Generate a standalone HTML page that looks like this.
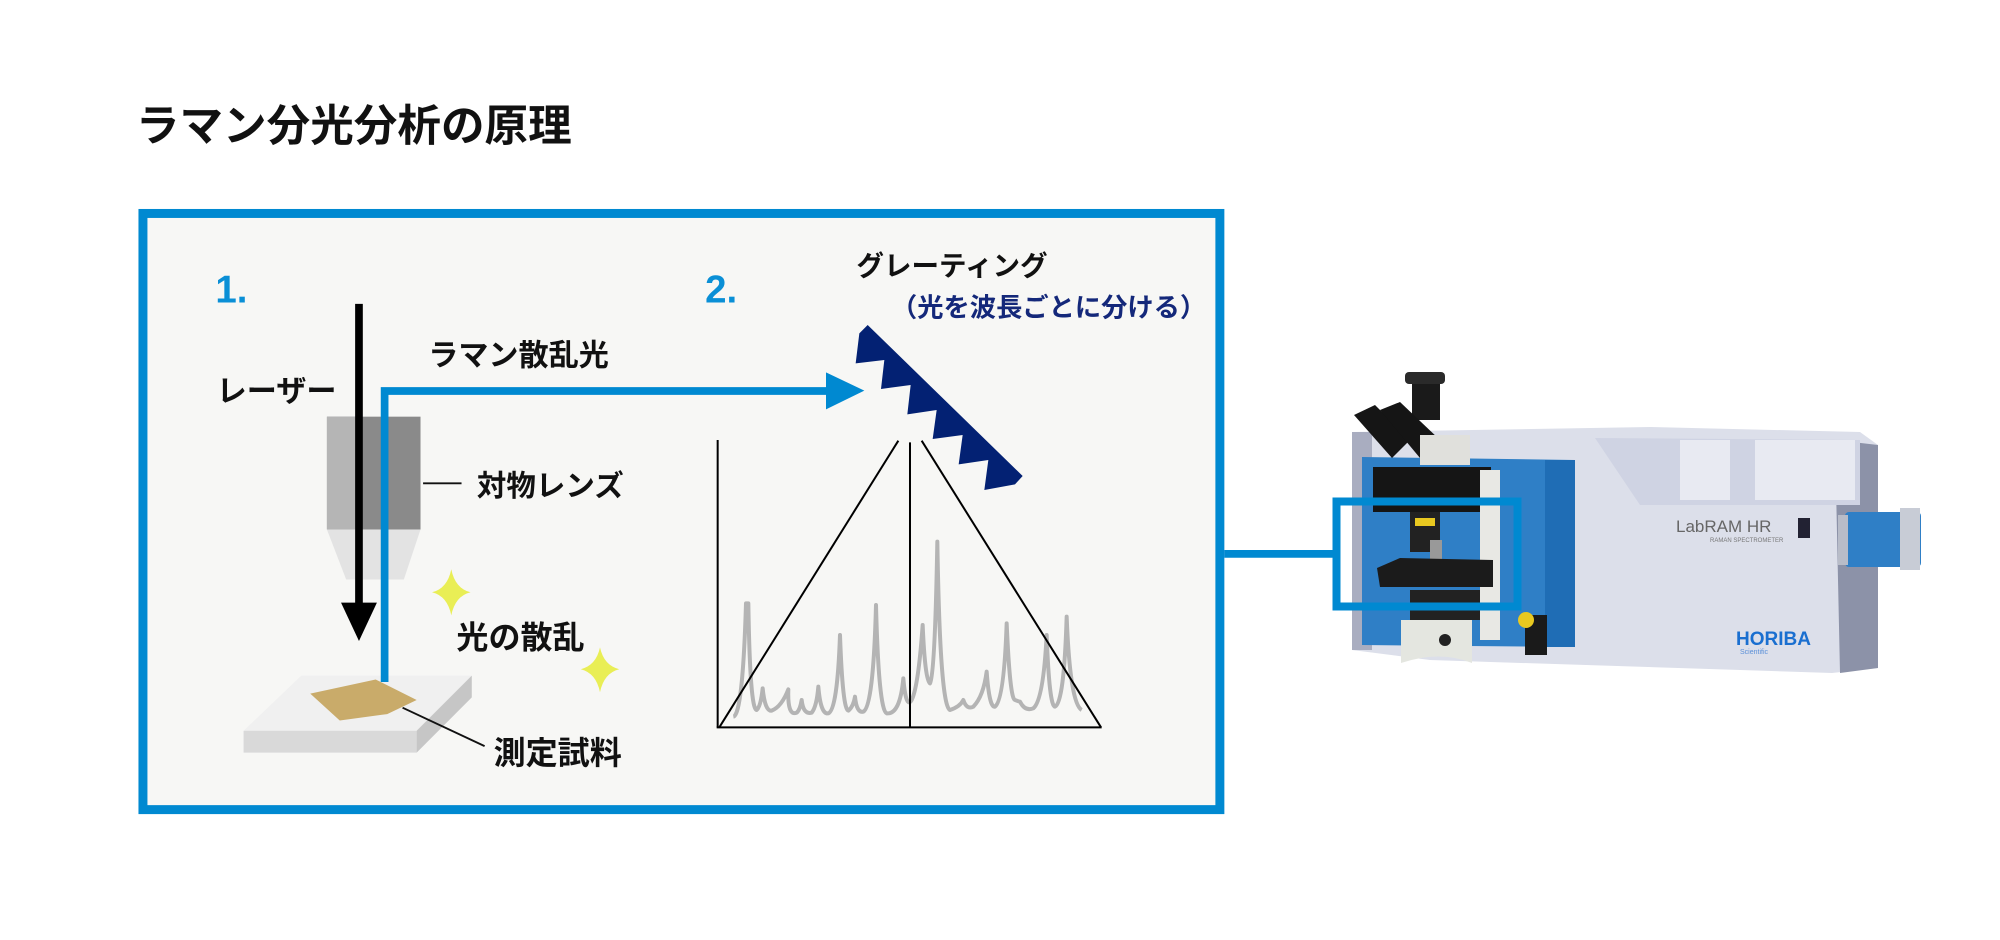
<!DOCTYPE html>
<html><head><meta charset="utf-8"><style>
html,body{margin:0;padding:0;background:#fff;width:2000px;height:940px;overflow:hidden}
svg{display:block}
text{font-family:"Liberation Sans","Noto Sans CJK JP",sans-serif;font-weight:bold}
</style></head><body>
<svg width="2000" height="940" viewBox="0 0 2000 940" xmlns="http://www.w3.org/2000/svg">
<g transform="scale(1.28205)">
  <text x="106" y="110" font-size="34" fill="#111">ラマン分光分析の原理</text>
  <rect x="111.5" y="166.5" width="840" height="465" fill="#f7f7f5" stroke="#0089d1" stroke-width="7"/>
  <line x1="955" y1="432" x2="1040" y2="432" stroke="#0089d1" stroke-width="6"/>
  <text x="168" y="236" font-size="30" fill="#0a8fd6">1.</text>
  <text x="550" y="236" font-size="30" fill="#0a8fd6">2.</text>
  <text x="169" y="313" font-size="23.5" fill="#111">レーザー</text>
  <text x="334" y="285" font-size="23.5" fill="#111">ラマン散乱光</text>
  <text x="372" y="387" font-size="23" fill="#111">対物レンズ</text>
  <text x="356" y="506" font-size="25" fill="#111">光の散乱</text>
  <text x="385" y="596" font-size="25" fill="#111">測定試料</text>
  <text x="668" y="215" font-size="21.5" fill="#111">グレーティング</text>
  <text x="695" y="247" font-size="20.5" fill="#14287a">（光を波長ごとに分ける）</text>
  <rect x="255" y="325" width="73" height="88" fill="#8a8a8a"/>
  <rect x="255" y="325" width="26" height="88" fill="#b5b5b5"/>
  <polygon points="255,413 328,413 315,452 270,452" fill="#e3e3e3"/>
  <line x1="330" y1="377" x2="360" y2="377" stroke="#111" stroke-width="1.5"/>
  <line x1="280" y1="237" x2="280" y2="475" stroke="#000" stroke-width="6"/>
  <polygon points="266,470 294,470 280,500" fill="#000"/>
  <polygon points="235,527 368,527 325,570 190,570" fill="#f0f0f0"/>
  <polygon points="190,570 325,570 325,587 190,587" fill="#d9d9d9"/>
  <polygon points="325,570 368,527 368,544 325,587" fill="#c6c6c6"/>
  <polygon points="242,541 293,530 325,546 302,557 265,562" fill="#c9ab6a"/>
  <line x1="314" y1="552" x2="378" y2="582" stroke="#111" stroke-width="1.5"/>
  <polyline points="300,532 300,305 652,305" fill="none" stroke="#0089d1" stroke-width="6"/>
  <path d="M352,444 Q355,459 367,462 Q355,465 352,480 Q349,465 337,462 Q349,459 352,444Z" fill="#e9ee55"/>
  <path d="M468,505 Q471,519 483,522 Q471,525 468,540 Q465,525 453,522 Q465,519 468,505Z" fill="#e9ee55"/>
</g>
<g transform="translate(700,320) scale(0.33333)">
  <polygon points="378,157 493,212 378,268" fill="#0089d1"/>
  <polygon points="503,15 478,40 467,130 553,120 543,207 632,195 622,283 710,270 698,357 788,345 776,433 865,420 853,510 945,493 968,468" fill="#032173"/>
  <path d="M100,1190 Q128,1185 138,850 L145,850 Q150,1170 170,1170 Q182,1160 188,1105 Q195,1175 215,1172 Q245,1160 265,1108 Q262,1190 290,1178 Q300,1170 305,1140 Q310,1185 335,1178 Q350,1160 355,1100 Q362,1185 385,1180 Q412,1170 420,945 Q428,1170 445,1172 Q460,1160 465,1130 Q470,1180 490,1175 Q520,1160 528,855 Q536,1170 560,1180 Q600,1185 610,1075 Q618,1170 635,1140 Q655,1100 668,915 Q675,1080 690,1090 Q705,1060 712,665 Q720,1160 750,1170 Q780,1160 790,1140 Q800,1170 820,1160 Q850,1130 860,1055 Q868,1165 885,1160 Q912,1140 920,910 Q930,1140 945,1140 Q958,1145 960,1145 Q975,1175 1000,1165 Q1030,1140 1040,945 Q1048,1160 1065,1160 Q1092,1150 1100,890 Q1110,1150 1145,1170" fill="none" stroke="#b4b4b4" stroke-width="12" stroke-linejoin="round"/>
  <g stroke="#000" stroke-width="6" fill="none">
    <line x1="53" y1="360" x2="53" y2="1222"/>
    <line x1="50" y1="1222" x2="1205" y2="1222"/>
    <line x1="595" y1="362" x2="58" y2="1222"/>
    <line x1="665" y1="362" x2="1203" y2="1222"/>
    <line x1="630" y1="367" x2="630" y2="1222"/>
  </g>
</g>
<g>
  <polygon points="1352,432 1650,427 1860,432 1878,445 1878,668 1832,673 1430,660 1352,650" fill="#dcdfea"/>
  <polygon points="1352,432 1372,432 1372,650 1352,650" fill="#a9adc0"/>
  <polygon points="1835,440 1878,445 1878,668 1840,673" fill="#8c92a8"/>
  <polygon points="1595,438 1860,440 1860,505 1640,505" fill="#cfd3e3"/>
  <rect x="1680" y="440" width="50" height="60" fill="#e8eaf2"/>
  <rect x="1755" y="440" width="100" height="60" fill="#e8eaf2"/>
  <polygon points="1362,457 1575,460 1575,647 1362,645" fill="#2f7fc6"/>
  <rect x="1545" y="460" width="30" height="187" fill="#1f6db5"/>
  <rect x="1845" y="512" width="76" height="55" rx="4" fill="#2f7fc6"/>
  <rect x="1900" y="508" width="20" height="62" fill="#c8ccd6"/>
  <rect x="1838" y="515" width="10" height="50" fill="#b8bcc8"/>
  <text x="1676" y="532" font-size="17" fill="#666" style="font-weight:normal">LabRAM HR</text>
  <text x="1710" y="542" font-size="6" fill="#777" style="font-weight:normal">RAMAN SPECTROMETER</text>
  <rect x="1798" y="518" width="12" height="20" fill="#223"/>
  <text x="1736" y="645" font-size="19" fill="#1a6fd0">HORIBA</text>
  <text x="1740" y="654" font-size="7" fill="#5a8fd8" style="font-weight:normal">Scientific</text>
  <rect x="1412" y="380" width="28" height="40" fill="#1a1a1a"/>
  <rect x="1405" y="372" width="40" height="12" rx="4" fill="#2a2a2a"/>
  <polygon points="1354,415 1375,405 1410,440 1392,458" fill="#151515"/>
  <polygon points="1380,410 1400,402 1440,440 1420,458" fill="#151515"/>
  <rect x="1420" y="435" width="50" height="30" fill="#e0e0dc"/>
  <rect x="1373" y="467" width="118" height="45" fill="#151515"/>
  <rect x="1480" y="470" width="20" height="170" fill="#e8e8e4"/>
  <rect x="1410" y="512" width="30" height="40" fill="#222"/>
  <rect x="1415" y="518" width="20" height="8" fill="#e8c820"/>
  <rect x="1430" y="540" width="12" height="25" fill="#999"/>
  <polygon points="1377,568 1400,558 1493,560 1493,587 1380,587" fill="#1b1b1b"/>
  <rect x="1410" y="590" width="70" height="30" fill="#222"/>
  <path d="M1401,620 L1472,620 L1472,663 Q1440,650 1401,663Z" fill="#e4e6e0"/>
  <circle cx="1445" cy="640" r="6" fill="#222"/>
  <rect x="1525" y="615" width="22" height="40" fill="#1a1a1a"/>
  <circle cx="1526" cy="620" r="8" fill="#e8c820"/>
</g>
<rect x="1336.5" y="501.5" width="181" height="105" fill="none" stroke="#0089d1" stroke-width="8"/>
</svg>
</body></html>
